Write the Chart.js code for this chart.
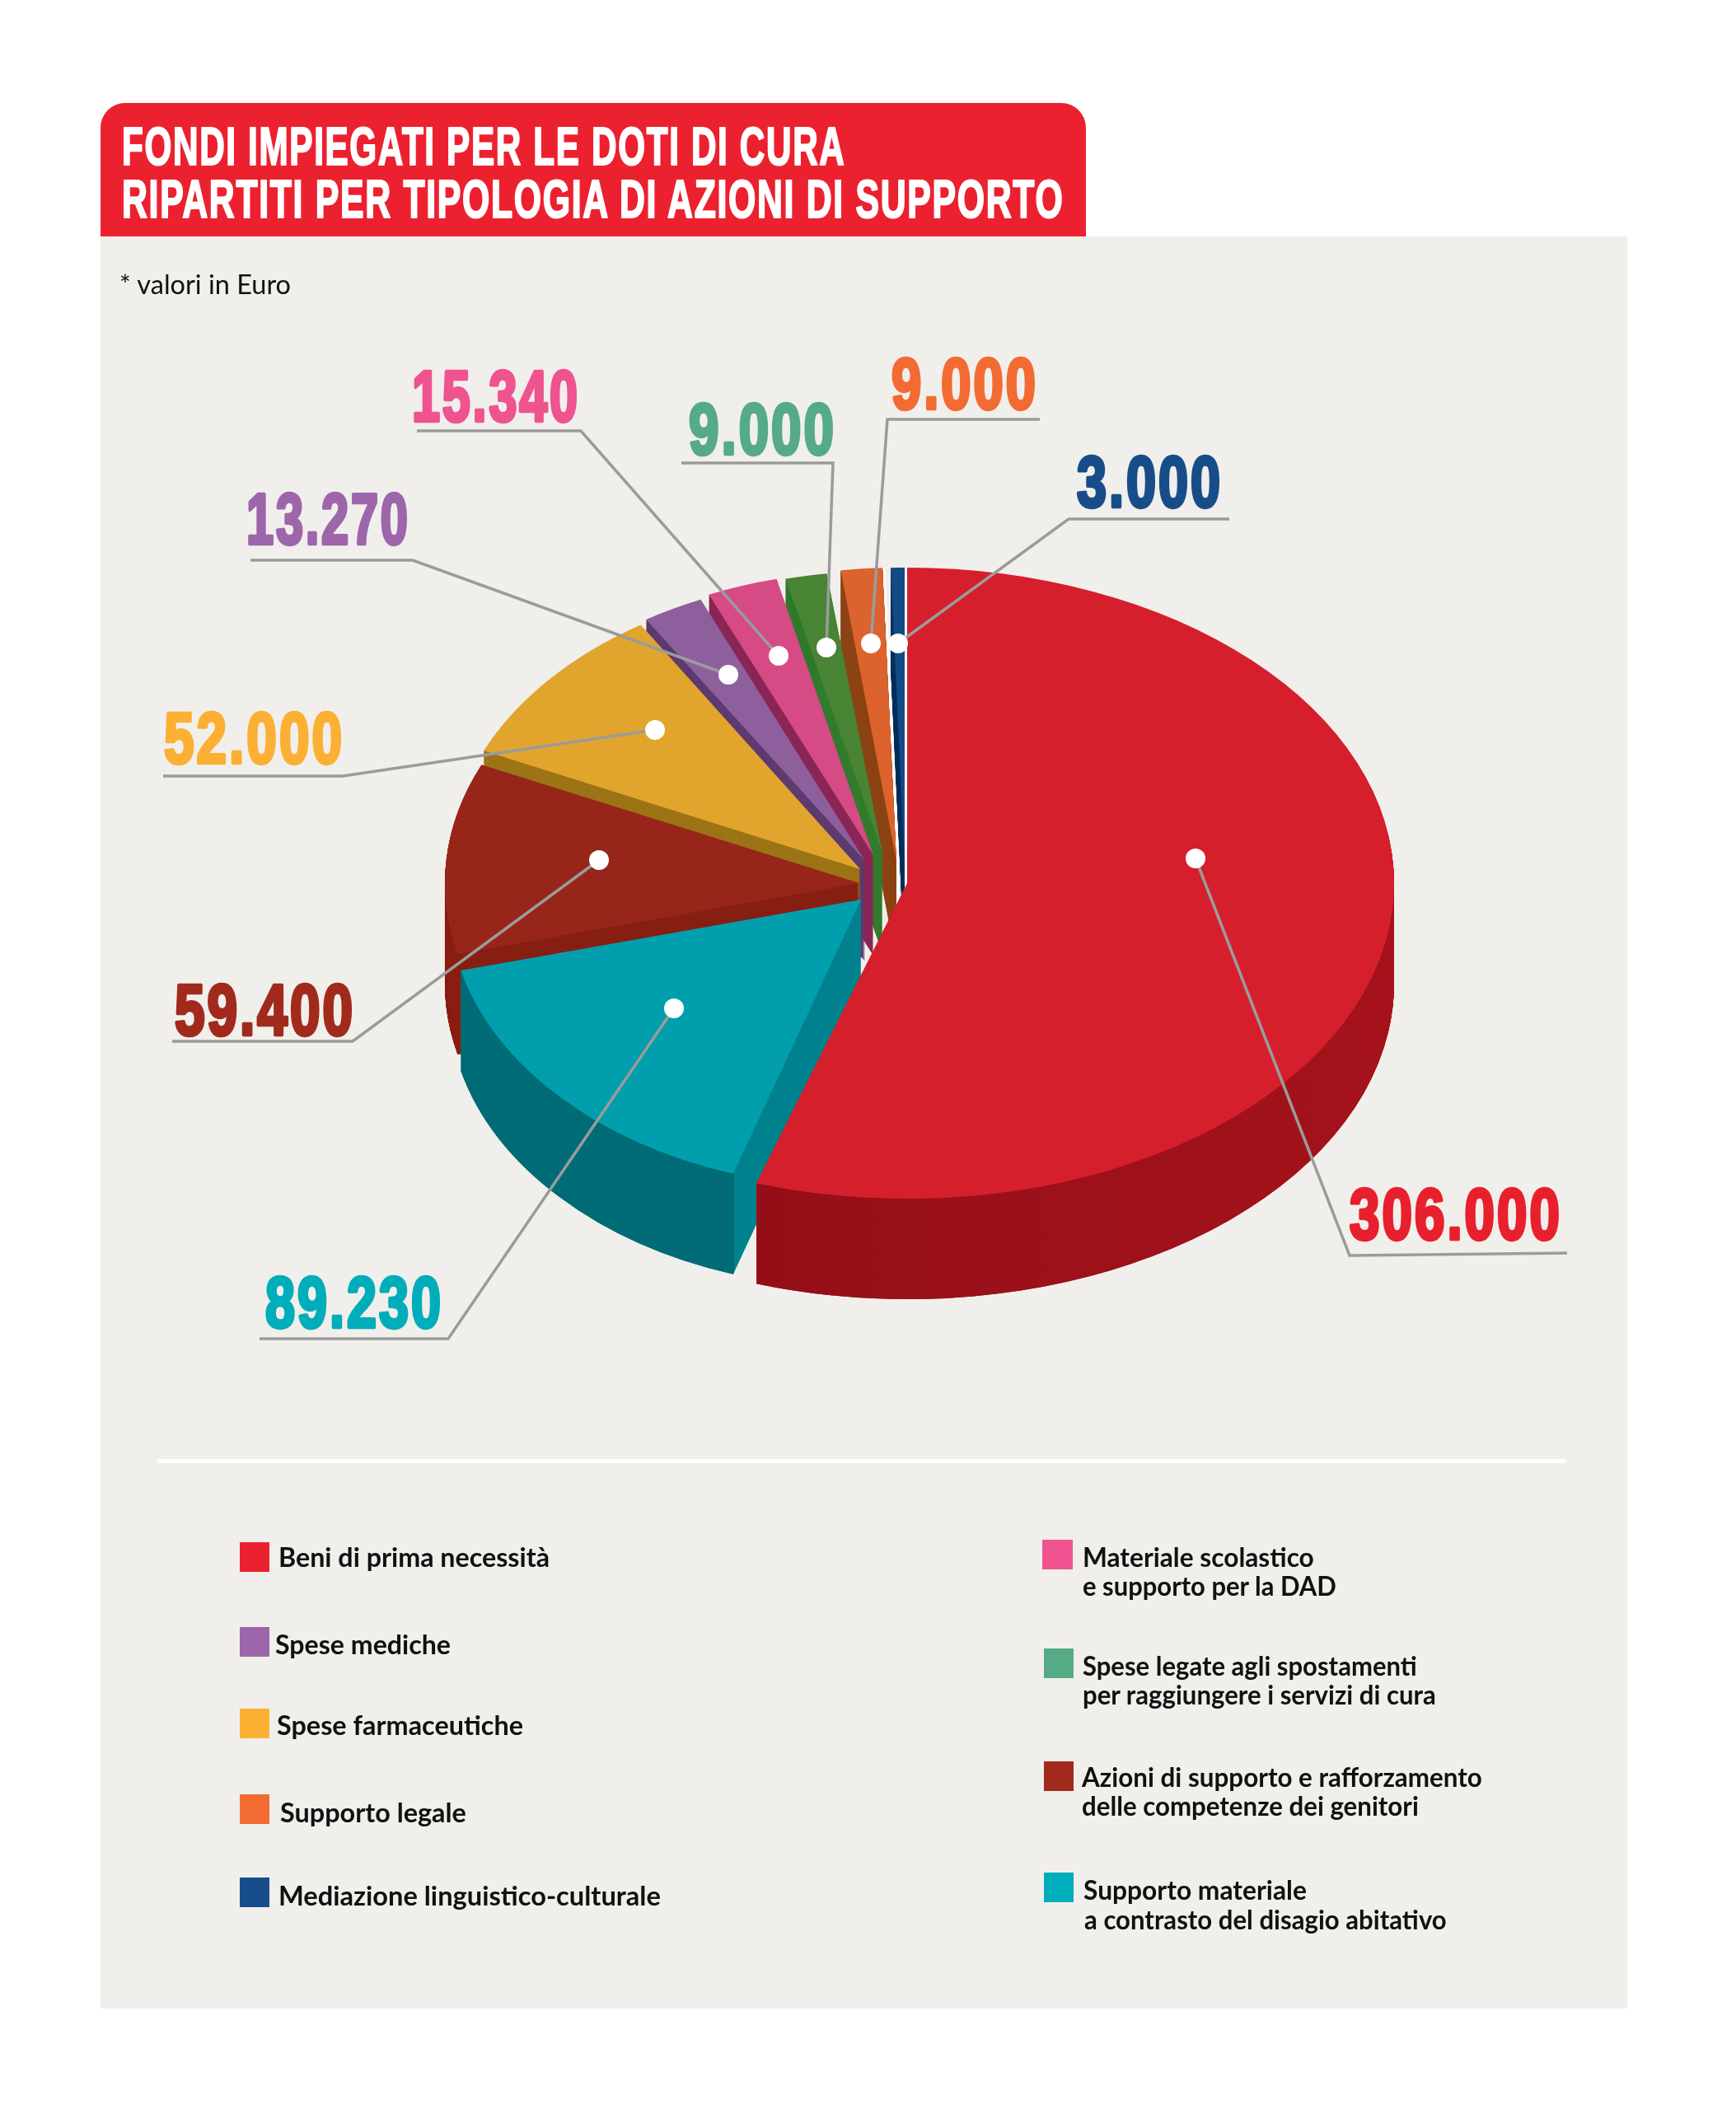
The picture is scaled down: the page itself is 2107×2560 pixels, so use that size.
<!DOCTYPE html>
<html lang="it">
<head>
<meta charset="utf-8">
<title>Fondi impiegati per le doti di cura</title>
<script src="https://cdn.jsdelivr.net/npm/chart.js@4"></script>
<style>
html,body{margin:0;padding:0;background:#fff}
#page{position:relative;width:2107px;height:2560px;overflow:hidden;background:#fff}
#panel{position:absolute;left:122px;top:287px;width:1853px;height:2151px;background:#f1efeb}
#head{position:absolute;left:122px;top:125px;width:1196px;height:162px;background:#ec2130;border-radius:30px 30px 0 0}
#rule{position:absolute;left:192px;top:1771px;width:1709px;height:5px;background:#fff}
canvas{position:absolute;left:0;top:0}
svg{position:absolute;left:0;top:0}
</style>
</head>
<body>
<div id="page">
  <div id="panel"></div>
  <div id="head"></div>
  <div id="rule"></div>
  <canvas id="pie" width="2107" height="2560" style="width:2107px;height:2560px"></canvas>
  <svg id="txt" width="2107" height="2560" xmlns="http://www.w3.org/2000/svg"></svg>
</div>
<script>
// ---- data ----
const categories = ["Beni di prima necessità","Supporto materiale a contrasto del disagio abitativo","Azioni di supporto e rafforzamento delle competenze dei genitori","Spese farmaceutiche","Spese mediche","Materiale scolastico e supporto per la DAD","Spese legate agli spostamenti per raggiungere i servizi di cura","Supporto legale","Mediazione linguistico-culturale"];
const values = [306000,89230,59400,52000,13270,15340,9000,9000,3000];
const valueLabels = ["306.000","89.230","59.400","52.000","13.270","15.340","9.000","9.000","3.000"];

// ---- styles ----
const topColors   = ["#d61f2c","#019fae","#97251a","#e1a52e","#8e5f9d","#d64a85","#488434","#dc632d","#134a83"];
const outerColors = ["#a0101a","#006c76","#8a1e10","#9c7416","#5d3a70","#8a2655","#2f7a2c","#8c4414","#04305f"];
const cutColors   = ["#a0101a","#00828e","#871f13","#9c7416","#5d3a70","#8a2655","#337c2e","#8c4414","#04305f"];
const labelColors = ["#e8202d","#00adbb","#a12a1d","#fbb034","#9d66ab","#ef5390","#55ab86","#f26b33","#174e8a"];

// ---- per-slice geometry of the drawing (exploded, squashed) ----
const apexX = [1101,1045,1043,1044,1050,1060,1071,1088,1098];
const apexY = [1072,1092,1072,1055,1045,1038,1035,1045,1050];
const radX  = [591,501,503,501,500,500,500,500,500];
const radY  = [383,350,350,350,346,345,342,356,361];
const halo  = [0,0,0,0,0,0,0,3,3];
const depth = 122;
const drawOrder = [8,7,6,5,4,3,2,1,0];

// ---- leaders: left end, elbow, dot ----
const ruleStartX = [1902,315,209,198,304,506,827,1262,1492];
const ruleStartY = [1521,1625,1264,942,680,523,562,509,630];
const elbowX = [1638,544,428,416,501,705,1011,1077,1297];
const elbowY = [1524,1625,1264,942,680,523,562,509,630];
const dotX = [1451,818,727,795,884,945,1003,1057,1090];
const dotY = [1042,1224,1044,886,819,796,786,781,781];

// ---- value label boxes ----
const labelX0 = [1638,322,212,199,299,500,836,1082,1307];
const labelX1 = [1893,535,428,415,495,701,1012,1257,1481];
const labelBase = [1504,1611,1256,926,660,511,551,496,615];

// ---- legend ----
const legendColors = ["#ec2130","#9d66ab","#fbb034","#f26b33","#174e8a","#ef5390","#55ab86","#a12a1d","#00adbb"];
const legendSwatchX = [291,291,291,291,291,1265,1267,1267,1267];
const legendSwatchY = [1872,1975,2074,2178,2279,1869,2001,2138,2273];
const legendSwatchW = [36,36,36,36,36,37,36,36,36];
const legendLines = [
 ["Beni di prima necessità",338,667,1902],
 ["Spese mediche",334,547,2008],
 ["Spese farmaceutiche",336,635,2106],
 ["Supporto legale",340,566,2212],
 ["Mediazione linguistico-culturale",338,802,2313],
 ["Materiale scolastico",1314,1595,1902],
 ["e supporto per la DAD",1314,1622,1937],
 ["Spese legate agli spostamenti",1314,1720,2034],
 ["per raggiungere i servizi di cura",1314,1743,2069],
 ["Azioni di supporto e rafforzamento",1313,1799,2169],
 ["delle competenze dei genitori",1313,1722,2204],
 ["Supporto materiale",1315,1586,2306],
 ["a contrasto del disagio abitativo",1316,1756,2342]
];
const titleLines = [["FONDI IMPIEGATI PER LE DOTI DI CURA",148,1025,200],["RIPARTITI PER TIPOLOGIA DI AZIONI DI SUPPORTO",148,1290,264]];
const noteText = ["* valori in Euro",145,353,357];

const NS = "http://www.w3.org/2000/svg";
const svg = document.getElementById('txt');
function addText(str,x0,x1,base,family,size,weight,fill,stroke,spacing){
  const t=document.createElementNS(NS,'text');
  t.textContent=str;
  t.setAttribute('font-family',family);t.setAttribute('font-size',size);t.setAttribute('font-weight',weight);
  t.setAttribute('fill',fill);
  if(spacing) t.setAttribute('letter-spacing',spacing);
  if(stroke){t.setAttribute('stroke',fill);t.setAttribute('stroke-width',stroke);t.setAttribute('stroke-linejoin','round');}
  svg.appendChild(t);
  const w=t.getComputedTextLength()-(spacing||0);
  t.setAttribute('transform','translate('+x0+','+base+') scale('+((x1-x0)/w)+',1)');
}
const NARROW = "'Liberation Sans Narrow','Liberation Sans',sans-serif";
titleLines.forEach(l=>addText(l[0],l[1],l[2],l[3],NARROW,64,700,"#ffffff",2.2,2.5));
addText(noteText[0],noteText[1],noteText[2],noteText[3],"Lato,sans-serif",33,400,"#111");
valueLabels.forEach((s,i)=>addText(s,labelX0[i],labelX1[i],labelBase[i],NARROW,87,700,labelColors[i],4.5,4));
legendColors.forEach((c,i)=>{
  const r=document.createElementNS(NS,'rect');
  r.setAttribute('x',legendSwatchX[i]);r.setAttribute('y',legendSwatchY[i]);
  r.setAttribute('width',legendSwatchW[i]);r.setAttribute('height',36);r.setAttribute('fill',c);
  svg.appendChild(r);
});
legendLines.forEach(l=>addText(l[0],l[1],l[2],l[3],"Lato,sans-serif",33,700,"#111"));

function ghost(el,color,inner){
  const g=Object.create(el);
  g.options={backgroundColor:color,borderColor:'transparent',borderWidth:0,borderRadius:0,spacing:0,offset:0,borderAlign:'center',circular:true,borderJoinStyle:'round',borderDash:[],borderDashOffset:0};
  if(inner!==undefined) g.innerRadius=inner;
  return g;
}
const pie3d={
  id:'pie3d',
  beforeDatasetsDraw(chart){
    const ctx=chart.ctx, arcs=chart.getDatasetMeta(0).data;
    const paint=(el,i,dx,dy,g)=>{
      ctx.save();
      ctx.translate(apexX[i]+dx,apexY[i]+dy);
      ctx.scale(radX[i]/el.outerRadius,radY[i]/el.outerRadius);
      ctx.translate(-el.x,-el.y);
      g.draw(ctx);
      ctx.restore();
    };
    drawOrder.forEach(i=>{
      const el=arcs[i];
      if(halo[i]){
        const w=ghost(el,'#ffffff');
        for(let d=depth;d>=0;d-=1) paint(el,i,halo[i],d,w);
      }
      const cut=ghost(el,cutColors[i]);
      for(let d=depth;d>0;d-=1) paint(el,i,0,d,cut);
      let oc=outerColors[i];
      if(i===0){
        oc=ctx.createLinearGradient(el.x-el.outerRadius,0,el.x+el.outerRadius,0);
        oc.addColorStop(0,'#8a050e');oc.addColorStop(0.5,'#98101a');oc.addColorStop(1,'#a5121b');
      }
      const wall=ghost(el,oc,el.outerRadius-6);
      for(let d=depth;d>0;d-=1) paint(el,i,0,d,wall);
      paint(el,i,0,0,el);
    });
    return false;
  },
  afterDraw(chart){
    const ctx=chart.ctx;
    ctx.save();
    ctx.strokeStyle='#9b9b9b';ctx.lineWidth=3.5;ctx.lineJoin='miter';
    values.forEach((v,i)=>{
      ctx.beginPath();
      ctx.moveTo(ruleStartX[i],ruleStartY[i]);
      ctx.lineTo(elbowX[i],elbowY[i]);
      ctx.lineTo(dotX[i],dotY[i]);
      ctx.stroke();
    });
    ctx.fillStyle='#ffffff';
    values.forEach((v,i)=>{
      ctx.beginPath();
      ctx.arc(dotX[i],dotY[i],12,0,Math.PI*2);
      ctx.fill();
    });
    ctx.restore();
  }
};

new Chart(document.getElementById('pie'),{
  type:'pie',
  data:{labels:categories,datasets:[{data:values,backgroundColor:topColors,borderWidth:0}]},
  options:{
    responsive:false,animation:false,events:[],
    layout:{padding:400},
    plugins:{legend:{display:false},tooltip:{enabled:false},title:{display:false}}
  },
  plugins:[pie3d]
});
</script>
</body>
</html>
